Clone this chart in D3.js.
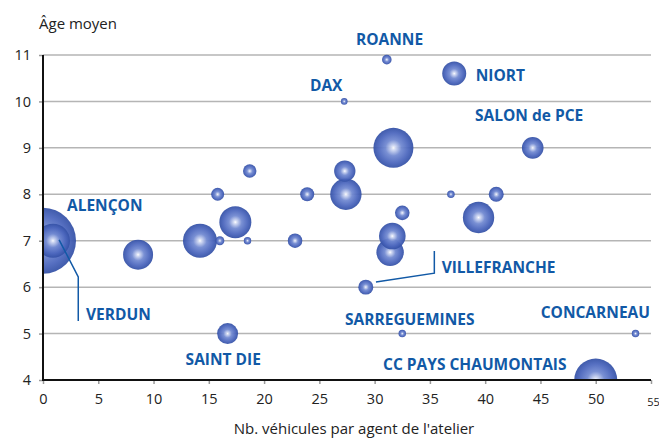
<!DOCTYPE html>
<html>
<head>
<meta charset="utf-8">
<script src="https://cdn.jsdelivr.net/npm/d3@7"></script>
<style>
  html, body { margin: 0; padding: 0; background: #fff; }
  svg { display: block; }
</style>
</head>
<body>
<svg id="chart" width="659" height="441"></svg>
<script>
// ---------- data ----------
const vehicles = [0, 0.9, 8.6, 14.2, 15.8, 16.0, 17.4, 18.5, 18.7, 16.7, 22.8, 23.9, 27.3, 27.4, 27.25, 31.1, 31.7, 37.2, 44.3, 36.9, 41.0, 39.4, 32.5, 31.6, 31.4, 29.2, 32.5, 53.6, 50.0];
const ages     = [7.0, 7.0, 6.7, 7.0, 8.0, 7.0, 7.4, 7.0, 8.5, 5.0, 7.0, 8.0, 8.5, 8.0, 10.0, 10.9, 9.0, 10.6, 9.0, 8.0, 8.0, 7.5, 7.6, 7.1, 6.75, 6.0, 5.0, 5.0, 4.0];
const sizes    = [109, 29, 22.5, 29, 4.2, 2, 25.6, 1.4, 4.5, 11, 5.3, 4.9, 11.4, 24.6, 1.1, 2.3, 40, 14.4, 11.7, 1.4, 5.6, 24.6, 5.3, 17.7, 18.8, 5.6, 1.4, 1.4, 46.2];

const yTicks = [4, 5, 6, 7, 8, 9, 10, 11];
const xTicks = [0, 5, 10, 15, 20, 25, 30, 35, 40, 45, 50];
const xLastTick = 55;

const labelNames = ["ALENÇON", "VERDUN", "SAINT DIE", "DAX", "ROANNE", "NIORT", "SALON de PCE", "VILLEFRANCHE", "SARREGUEMINES", "CONCARNEAU", "CC PAYS CHAUMONTAIS"];
const labelX = [2.17, 3.89, 12.9, 24.15, 28.31, 39.14, 39.08, 36.06, 27.32, 45.02, 30.76];
const labelY = [7.63, 5.29, 4.32, 10.235, 11.205, 10.43, 9.57, 6.30, 5.18, 5.335, 4.205];

// leader lines (data units)
const leaderVerdun = [[1.46, 7.02], [3.19, 6.22], [3.19, 5.27]];
const leaderVillefranche = [[30.12, 6.11], [35.4, 6.30], [35.4, 6.78]];

const yTitle = "Âge moyen";
const xTitle = "Nb. véhicules par agent de l'atelier";

// ---------- layout ----------
const svg = d3.select("#chart");
const mLeft = 43, mRight = 651, mTop = 55, mBottom = 380;
const x = d3.scaleLinear().domain([0, 55]).range([mLeft, mRight]);
const y = d3.scaleLinear().domain([4, 11]).range([mBottom, mTop]);
const r = d3.scaleSqrt().domain([0, 109]).range([0, 33]);

const font = "'Open Sans', 'DejaVu Sans', sans-serif";
const blue = "#1159a6";

svg.append("rect").attr("width", 659).attr("height", 441).attr("fill", "#fff");

const defs = svg.append("defs");
const grad = defs.append("radialGradient").attr("id", "bub")
  .attr("cx", "50%").attr("cy", "50%").attr("r", "50%");
[[0, "#ffffff"], [0.1, "#d3dbf3"], [0.4, "#7189d1"], [0.75, "#4b66bd"], [1, "#3451a6"]]
  .forEach(([o, c]) => grad.append("stop").attr("offset", o).attr("stop-color", c));
defs.append("clipPath").attr("id", "plotclip")
  .append("rect").attr("x", mLeft).attr("y", 0).attr("width", 659 - mLeft).attr("height", mBottom);

// gridlines
svg.append("g").selectAll("line").data(yTicks.filter(d => d !== 4)).join("line")
  .attr("x1", mLeft).attr("x2", mRight)
  .attr("y1", d => y(d)).attr("y2", d => y(d))
  .attr("stroke", "#b5b5b5").attr("stroke-width", 1.5);

// bubbles
const pts = vehicles.map((v, i) => ({ x: v, y: ages[i], s: sizes[i] }))
  .sort((a, b) => b.s - a.s);
svg.append("g").attr("clip-path", "url(#plotclip)")
  .selectAll("circle").data(pts).join("circle")
  .attr("cx", d => x(d.x)).attr("cy", d => y(d.y)).attr("r", d => r(d.s))
  .attr("fill", "url(#bub)").attr("fill-opacity", 0.94);

// leader lines
const line = d3.line().x(d => x(d[0])).y(d => y(d[1]));
[leaderVerdun, leaderVillefranche].forEach(l =>
  svg.append("path").attr("d", line(l)).attr("fill", "none")
    .attr("stroke", blue).attr("stroke-width", 1.5));

// labels
svg.append("g").selectAll("text").data(labelNames).join("text")
  .attr("x", (d, i) => x(labelX[i])).attr("y", (d, i) => y(labelY[i]))
  .attr("font-family", font).attr("font-weight", "bold").attr("font-size", 15.5)
  .attr("fill", blue).text(d => d);

// y axis
const yAxis = svg.append("g").attr("transform", `translate(${mLeft},0)`)
  .call(d3.axisLeft(y).tickValues(yTicks).tickSize(4).tickPadding(8).tickFormat(d3.format("d")));
yAxis.select(".domain").remove();
yAxis.selectAll(".tick line").attr("stroke", "#999").attr("stroke-width", 1.5);
yAxis.selectAll(".tick text").attr("font-family", font).attr("font-size", 14.5).attr("fill", "#222");
svg.append("line").attr("x1", mLeft).attr("x2", mLeft).attr("y1", mTop).attr("y2", mBottom + 1)
  .attr("stroke", "#111").attr("stroke-width", 2);

// x axis
const xAxis = svg.append("g").attr("transform", `translate(0,${mBottom})`)
  .call(d3.axisBottom(x).tickValues(xTicks.concat([xLastTick])).tickSize(4).tickPadding(10).tickFormat(d3.format("d")));
xAxis.select(".domain").remove();
xAxis.selectAll(".tick line").attr("stroke", "#999").attr("stroke-width", 1.5);
xAxis.selectAll(".tick text").attr("font-family", font).attr("font-size", 14.5).attr("fill", "#222");
xAxis.selectAll(".tick").filter(d => d === xLastTick).select("text")
  .attr("font-size", 11).attr("dy", "1.05em").attr("dx", 2);
svg.append("line").attr("x1", mLeft - 1).attr("x2", mRight).attr("y1", mBottom).attr("y2", mBottom)
  .attr("stroke", "#111").attr("stroke-width", 2);

// titles
svg.append("text").attr("x", 39).attr("y", 29)
  .attr("font-family", font).attr("font-size", 15).attr("fill", "#222").text(yTitle);
svg.append("text").attr("x", 354).attr("y", 434).attr("text-anchor", "middle")
  .attr("font-family", font).attr("font-size", 15).attr("fill", "#222").text(xTitle);
</script>
</body>
</html>
